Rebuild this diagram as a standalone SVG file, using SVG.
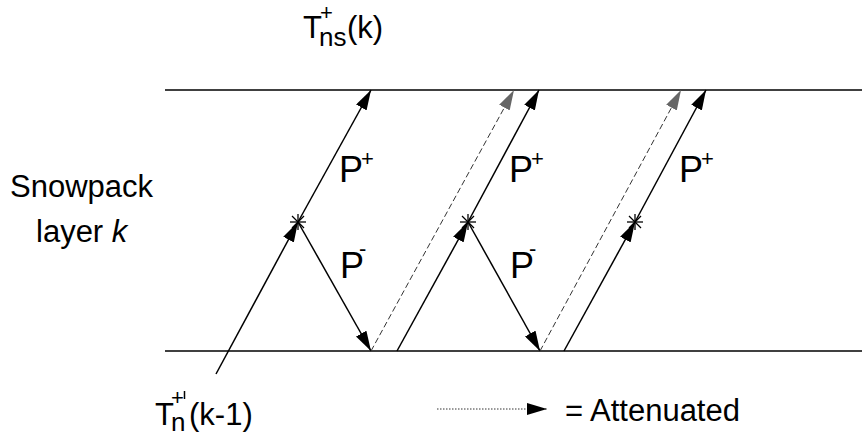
<svg xmlns="http://www.w3.org/2000/svg" width="862" height="439" viewBox="0 0 862 439">
<style>
text{font-family:"Liberation Sans",Arial,sans-serif;fill:#000}
.lbl{font-size:31px}
.p{font-size:36px}
.sup{font-size:22px}
.sub{font-size:26px}
.ln{stroke:#000;stroke-width:1.5;fill:none}
.dash{stroke:#333;stroke-width:1;fill:none;stroke-dasharray:6 3}
.dot{stroke:#333;stroke-width:1;fill:none;stroke-dasharray:1.5 1.5}
.star{stroke:#000;stroke-width:1.3}
</style>
<defs>
<marker id="ah" viewBox="0 0 20 12" refX="20" refY="6" markerWidth="20" markerHeight="12" markerUnits="userSpaceOnUse" orient="auto">
<path d="M0,0 L20,6 L0,12 z" fill="#000"/>
</marker>
<marker id="ahg" viewBox="0 0 20 12" refX="20" refY="6" markerWidth="20" markerHeight="12" markerUnits="userSpaceOnUse" orient="auto">
<path d="M0,0 L20,6 L0,12 z" fill="#666"/>
</marker>
<g id="st"><line x1="-8" y1="0" x2="8" y2="0"/><line x1="0" y1="-8" x2="0" y2="8"/><line x1="-6" y1="-6" x2="6" y2="6"/><line x1="-6" y1="6" x2="6" y2="-6"/></g>
</defs>
<g id="boundaries">
<line class="ln" x1="165" y1="90" x2="862" y2="90"/>
<line class="ln" x1="165" y1="351" x2="862" y2="351"/>
</g>
<g id="connectors">
<line class="ln" x1="216" y1="374" x2="298" y2="222" marker-end="url(#ah)"/>
<line class="ln" x1="298" y1="222" x2="371" y2="90" marker-end="url(#ah)"/>
<line class="ln" x1="298" y1="222" x2="371" y2="351" marker-end="url(#ah)"/>
<line class="dash" x1="371" y1="351" x2="514" y2="90" marker-end="url(#ahg)"/>
<line class="ln" x1="397" y1="351" x2="468" y2="222" marker-end="url(#ah)"/>
<line class="ln" x1="468" y1="222" x2="539" y2="90" marker-end="url(#ah)"/>
<line class="ln" x1="468" y1="222" x2="540" y2="351" marker-end="url(#ah)"/>
<line class="dash" x1="540" y1="351" x2="681" y2="90" marker-end="url(#ahg)"/>
<line class="ln" x1="564" y1="351" x2="635" y2="222" marker-end="url(#ah)"/>
<line class="ln" x1="635" y1="222" x2="706" y2="90" marker-end="url(#ah)"/>
</g>
<g id="stars" class="star">
<use href="#st" x="298" y="222"/>
<use href="#st" x="468" y="222"/>
<use href="#st" x="635" y="222"/>
</g>
<g id="labels">
<text x="339" y="182" class="p">P<tspan class="sup" dx="-2" dy="-16">+</tspan></text>
<text x="509" y="182" class="p">P<tspan class="sup" dx="-2" dy="-16">+</tspan></text>
<text x="679" y="182" class="p">P<tspan class="sup" dx="-2" dy="-16">+</tspan></text>
<text x="340" y="278" class="p">P<tspan class="sup" dx="-5" dy="-22">-</tspan></text>
<text x="510" y="278" class="p">P<tspan class="sup" dx="-5" dy="-22">-</tspan></text>
</g>
<g id="snowpack">
<text x="10" y="197" class="lbl">Snowpack</text>
<text x="36" y="242" class="lbl">layer <tspan font-style="italic">k</tspan></text>
</g>
<g id="top-label">
<text x="303" y="38" class="lbl">T</text>
<text x="320" y="20" class="sup">+</text>
<text x="319" y="46" class="sub">ns</text>
<text x="347" y="38" class="lbl">(k)</text>
</g>
<g id="bottom-label">
<text x="155" y="425" class="lbl">T</text>
<text x="171" y="405" class="sup">+</text>
<line x1="184.5" y1="391" x2="184.5" y2="399" stroke="#000" stroke-width="1.5"/>
<text x="171" y="431" class="sub">n</text>
<text x="189" y="425" class="lbl">(k-1)</text>
</g>
<g id="legend">
<line class="dot" x1="437" y1="409" x2="547" y2="409" marker-end="url(#ah)"/>
<text x="565" y="421" class="lbl">= Attenuated</text>
</g>
</svg>
